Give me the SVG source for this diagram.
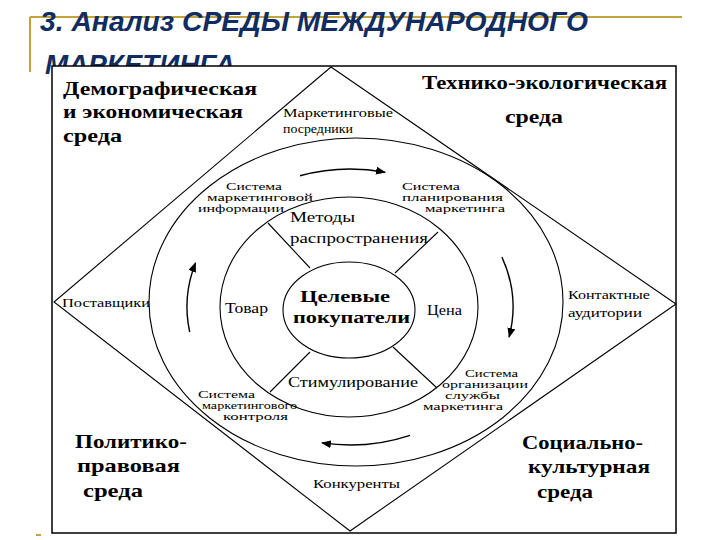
<svg xmlns="http://www.w3.org/2000/svg" width="720" height="540" viewBox="0 0 720 540">
<defs>
<marker id="ah" viewBox="0 0 10 8" refX="9" refY="4" markerWidth="10" markerHeight="8" markerUnits="userSpaceOnUse" orient="auto"><path d="M0,0 L10,4 L0,8 z" fill="#000"/></marker>
<style>
.ttl{font-family:"Liberation Sans",Arial,sans-serif;font-weight:bold;font-style:italic;font-size:28px;fill:#102C60}
.gold{stroke:#C2A33E;stroke-width:2;fill:none}
.ln{stroke:#000;stroke-width:1.1;fill:none}
.big{font-family:"Liberation Serif","Times New Roman",serif;font-weight:bold;font-size:19px;fill:#000}
.ctr{font-family:"Liberation Serif","Times New Roman",serif;font-weight:bold;font-size:17px;fill:#000}
.sm{font-family:"Liberation Serif","Times New Roman",serif;font-size:12px;fill:#000}
.xs{font-family:"Liberation Serif","Times New Roman",serif;font-size:10px;fill:#000}
.md{font-family:"Liberation Serif","Times New Roman",serif;font-size:15px;fill:#000}
.arr{stroke:#000;stroke-width:1.4;fill:none;marker-end:url(#ah)}
</style>
</defs>
<rect width="720" height="540" fill="#fff"/>
<g id="title">
<path class="gold" d="M30,17 H682 M30,17 V72"/>
<path class="gold" d="M36,535 H41"/>
<text class="ttl" x="40" y="31" textLength="548" lengthAdjust="spacingAndGlyphs">3. Анализ СРЕДЫ МЕЖДУНАРОДНОГО</text>
<text class="ttl" x="45" y="74" textLength="190" lengthAdjust="spacingAndGlyphs">МАРКЕТИНГА</text>
</g>
<g id="frame">
<rect x="52" y="66" width="624" height="467" fill="#fff" stroke="#000" stroke-width="1.5"/>
<polygon class="ln" points="331,67 676,304 350,531 54,302"/>
</g>
<g id="rings">
<ellipse class="ln" cx="356" cy="302" rx="207" ry="164"/>
<ellipse class="ln" cx="349" cy="307" rx="129" ry="110"/>
<ellipse class="ln" cx="349" cy="310" rx="66" ry="48"/>
</g>
<g id="connectors">
<path class="ln" d="M268,223 L310,268 M438,232 L395,273 M270,392 L310,352 M437,388 L393,347"/>
<path class="arr" d="M300,175.7 A163,138 0 0 1 385,172.2"/>
<path class="arr" d="M501.9,257 A163,138 0 0 1 509.1,337"/>
<path class="arr" d="M410,435.3 A163,138 0 0 1 322,442.9"/>
<path class="arr" d="M189.7,332 A163,138 0 0 1 195.5,263"/>
</g>
<g id="env-demo"><text class="big" x="63" y="95" textLength="194" lengthAdjust="spacingAndGlyphs">Демографическая</text><text class="big" x="63" y="118" textLength="180" lengthAdjust="spacingAndGlyphs">и экономическая</text><text class="big" x="63" y="142" textLength="59" lengthAdjust="spacingAndGlyphs">среда</text></g>
<g id="env-tech"><text class="big" x="422" y="89" textLength="245" lengthAdjust="spacingAndGlyphs">Технико-экологическая</text><text class="big" x="505" y="123" textLength="58" lengthAdjust="spacingAndGlyphs">среда</text></g>
<g id="env-pol"><text class="big" x="75" y="448" textLength="112" lengthAdjust="spacingAndGlyphs">Политико-</text><text class="big" x="77" y="472" textLength="103" lengthAdjust="spacingAndGlyphs">правовая</text><text class="big" x="83" y="497" textLength="60" lengthAdjust="spacingAndGlyphs">среда</text></g>
<g id="env-soc"><text class="big" x="522" y="449" textLength="121" lengthAdjust="spacingAndGlyphs">Социально-</text><text class="big" x="528" y="473" textLength="122" lengthAdjust="spacingAndGlyphs">культурная</text><text class="big" x="537" y="498" textLength="56" lengthAdjust="spacingAndGlyphs">среда</text></g>
<g id="intermediaries"><text class="sm" x="283" y="117" textLength="110" lengthAdjust="spacingAndGlyphs">Маркетинговые</text><text class="sm" x="283" y="133" textLength="70" lengthAdjust="spacingAndGlyphs">посредники</text></g>
<g id="suppliers"><text class="sm" x="62" y="307" textLength="88" lengthAdjust="spacingAndGlyphs">Поставщики</text></g>
<g id="audiences"><text class="sm" x="568" y="299" textLength="82" lengthAdjust="spacingAndGlyphs">Контактные</text><text class="sm" x="568" y="317" textLength="74" lengthAdjust="spacingAndGlyphs">аудитории</text></g>
<g id="competitors"><text class="sm" x="313" y="488" textLength="87" lengthAdjust="spacingAndGlyphs">Конкуренты</text></g>
<g id="sys-info"><text class="xs" x="226" y="190" textLength="56" lengthAdjust="spacingAndGlyphs">Система</text><text class="xs" x="207" y="201" textLength="106" lengthAdjust="spacingAndGlyphs">маркетинговой</text><text class="xs" x="198" y="212" textLength="86" lengthAdjust="spacingAndGlyphs">информации</text></g>
<g id="sys-plan"><text class="xs" x="402" y="190" textLength="58" lengthAdjust="spacingAndGlyphs">Система</text><text class="xs" x="402" y="201" textLength="101" lengthAdjust="spacingAndGlyphs">планирования</text><text class="xs" x="425" y="212" textLength="80" lengthAdjust="spacingAndGlyphs">маркетинга</text></g>
<g id="sys-org"><text class="xs" x="465" y="377" textLength="53" lengthAdjust="spacingAndGlyphs">Система</text><text class="xs" x="442" y="388" textLength="86" lengthAdjust="spacingAndGlyphs">организации</text><text class="xs" x="445" y="399" textLength="55" lengthAdjust="spacingAndGlyphs">службы</text><text class="xs" x="423" y="410" textLength="80" lengthAdjust="spacingAndGlyphs">маркетинга</text></g>
<g id="sys-ctrl"><text class="xs" x="198" y="398" textLength="57" lengthAdjust="spacingAndGlyphs">Система</text><text class="xs" x="202" y="409" textLength="95" lengthAdjust="spacingAndGlyphs">маркетингового</text><text class="xs" x="223" y="420" textLength="65" lengthAdjust="spacingAndGlyphs">контроля</text></g>
<g id="distribution"><text class="md" x="290" y="222" textLength="65" lengthAdjust="spacingAndGlyphs">Методы</text><text class="md" x="290" y="243" textLength="138" lengthAdjust="spacingAndGlyphs">распространения</text></g>
<g id="product"><text class="md" x="225" y="313" textLength="43" lengthAdjust="spacingAndGlyphs">Товар</text></g>
<g id="price"><text class="md" x="427" y="315" textLength="35" lengthAdjust="spacingAndGlyphs">Цена</text></g>
<g id="promotion"><text class="md" x="288" y="387" textLength="130" lengthAdjust="spacingAndGlyphs">Стимулирование</text></g>
<g id="target"><text class="ctr" x="300" y="302" textLength="90" lengthAdjust="spacingAndGlyphs">Целевые</text><text class="ctr" x="293" y="323" textLength="117" lengthAdjust="spacingAndGlyphs">покупатели</text></g>
</svg>
